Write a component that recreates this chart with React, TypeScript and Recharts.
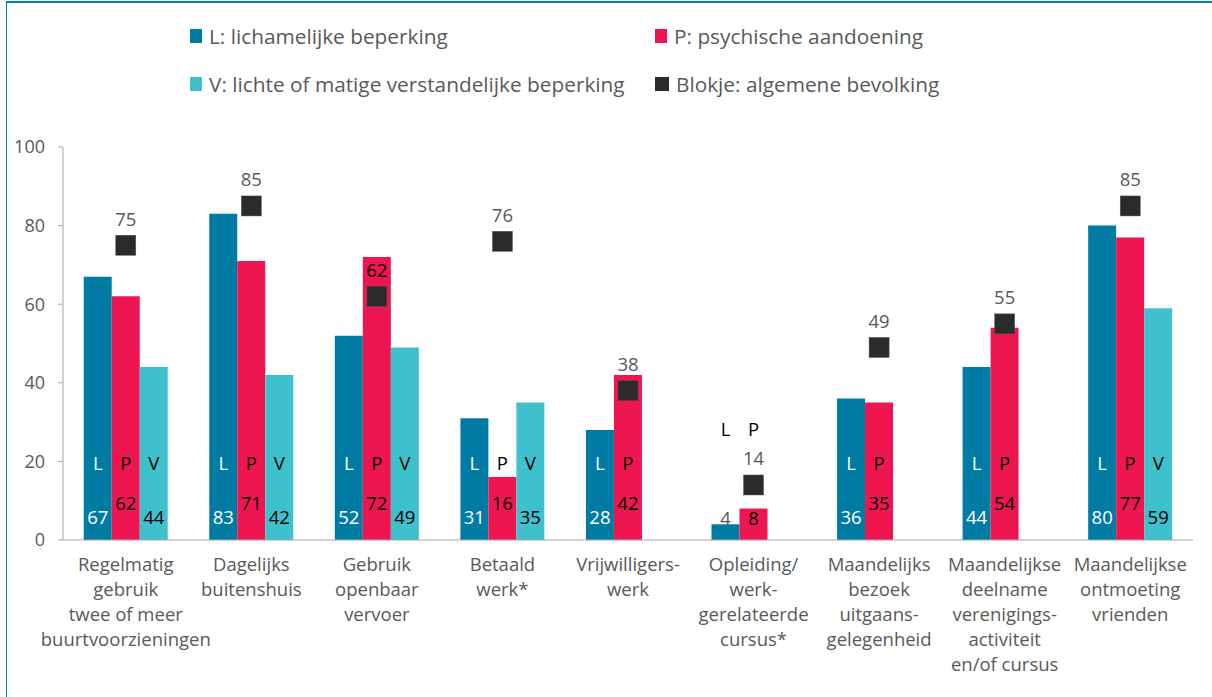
import React from "react";
import {
  Bar,
  ComposedChart,
  LabelList,
  Scatter,
  XAxis,
  YAxis,
} from "recharts";

const categories = [
  ["Regelmatig", "gebruik", "twee of meer", "buurtvoorzieningen"],
  ["Dagelijks", "buitenshuis"],
  ["Gebruik", "openbaar", "vervoer"],
  ["Betaald", "werk*"],
  ["Vrijwilligers-", "werk"],
  ["Opleiding/", "werk-", "gerelateerde", "cursus*"],
  ["Maandelijks", "bezoek", "uitgaans-", "gelegenheid"],
  ["Maandelijkse", "deelname", "verenigings-", "activiteit", "en/of cursus"],
  ["Maandelijkse", "ontmoeting", "vrienden"],
];
const lichamelijk = [67, 83, 52, 31, 28, 4, 36, 44, 80];
const psychisch = [62, 71, 72, 16, 42, 8, 35, 54, 77];
const verstandelijk = [44, 42, 49, 35, null, null, null, null, 59];
const bevolking = [75, 85, 62, 76, 38, 14, 49, 55, 85];
const yTicks = [0, 20, 40, 60, 80, 100];

const legendItems = [
  { label: "L: lichamelijke beperking", color: "#007ba3" },
  { label: "P: psychische aandoening", color: "#ee1651" },
  { label: "V: lichte of matige verstandelijke beperking", color: "#3ec1cd" },
  { label: "Blokje: algemene bevolking", color: "#2b2b2b" },
];

const FONT = "'Open Sans', sans-serif";
const GREY = "#595959";

const data = categories.map((lines, i) => ({
  name: lines.join(" "),
  L: lichamelijk[i],
  P: psychisch[i],
  V: verstandelijk[i],
  blokje: bevolking[i],
}));

// letter + value inside each bar
const barLabel = (letter: string, letterColor: string, valueColor: string, valueLift: number) =>
  (props: any) => {
    const { x, y, width, height, index, value } = props;
    if (value == null) return null;
    const cx = Number(x) + Number(width) / 2;
    const bottom = Number(y) + Number(height);
    const small = index === 5; // Opleiding: bars too short for text
    return (
      <g fontFamily={FONT} fontSize={18.5} textAnchor="middle">
        <text x={cx} y={small ? bottom - 112 : bottom - 78} dominantBaseline="central" fill={small ? "#000" : letterColor}>
          {letter}
        </text>
        <text
          x={cx}
          y={small ? bottom - 23 : bottom - valueLift}
          dominantBaseline="central"
          fill={small && letter === "L" ? GREY : valueColor}
        >
          {value}
        </text>
      </g>
    );
  };

const BlokjeShape = (props: any) => {
  const { cx, cy, payload } = props;
  // label sits inside the pink bar when that bar is clearly taller
  const inBar = payload.P != null && payload.P > payload.blokje + 9;
  return (
    <g>
      <rect x={cx - 10} y={cy - 10} width={20} height={20} fill="#2b2b2b" stroke="#555" strokeWidth={0.5} />
      <text x={cx} y={cy - 27} textAnchor="middle" dominantBaseline="central" fontFamily={FONT} fontSize={18.5} fill={inBar ? "#000" : GREY}>
        {payload.blokje}
      </text>
    </g>
  );
};

const CategoryTick = (props: any) => {
  const { x, payload } = props;
  const lines = categories[payload.index] || [];
  return (
    <text x={x} y={563} textAnchor="middle" fontFamily={FONT} fontSize={18.5} fill={GREY}>
      {lines.map((line, i) => (
        <tspan key={i} x={x} y={563 + i * 25} dominantBaseline="central">
          {line}
        </tspan>
      ))}
    </text>
  );
};

const Legend = () => (
  <div style={{ position: "absolute", left: 0, top: 0, fontFamily: FONT, fontSize: 20.8, color: GREY }}>
    {legendItems.map((item, i) => (
      <div
        key={item.label}
        style={{
          position: "absolute",
          left: i % 2 === 0 ? 190 : 655,
          top: i < 2 ? 36 : 84,
          transform: "translateY(-50%)",
          display: "flex",
          alignItems: "center",
          whiteSpace: "nowrap",
        }}
      >
        <span
          style={{
            display: "inline-block",
            width: i === 3 ? 14 : 12,
            height: 14,
            background: item.color,
            marginRight: 7,
          }}
        />
        {item.label}
      </div>
    ))}
  </div>
);

export default function App() {
  return (
    <div style={{ position: "absolute", left: 0, top: 0, width: 1212, height: 697, background: "#fff", overflow: "hidden" }}>
      <div
        style={{
          position: "absolute",
          left: 6,
          top: 1,
          width: 1212,
          height: 700,
          borderTop: "2px solid #0083a9",
          borderLeft: "1.5px solid #0083a9",
        }}
      />
      <Legend />
      <div style={{ position: "absolute", left: 0, top: 0 }}>
        <ComposedChart
          width={1212}
          height={697}
          data={data}
          margin={{ top: 147, right: 19, bottom: 127, left: 0 }}
          barCategoryGap="16.5%"
          barGap={0}
        >
          <XAxis
            dataKey="name"
            tick={<CategoryTick />}
            tickLine={false}
            axisLine={{ stroke: "#a6a6a6" }}
            interval={0}
          />
          <YAxis
            width={63}
            domain={[0, 100]}
            ticks={yTicks}
            tickSize={5}
            tickMargin={13}
            tickLine={{ stroke: "#a6a6a6" }}
            axisLine={{ stroke: "#a6a6a6" }}
            tick={{ fill: GREY, fontSize: 18, fontFamily: FONT }}
          />
          <Bar dataKey="L" fill="#007ba3" isAnimationActive={false}>
            <LabelList dataKey="L" content={barLabel("L", "#fff", "#fff", 24)} />
          </Bar>
          <Bar dataKey="P" fill="#ee1651" isAnimationActive={false}>
            <LabelList dataKey="P" content={barLabel("P", "#000", "#000", 38)} />
          </Bar>
          <Bar dataKey="V" fill="#3ec1cd" isAnimationActive={false}>
            <LabelList dataKey="V" content={barLabel("V", "#000", "#000", 24)} />
          </Bar>
          <Scatter dataKey="blokje" shape={<BlokjeShape />} isAnimationActive={false} />
        </ComposedChart>
      </div>
    </div>
  );
}
